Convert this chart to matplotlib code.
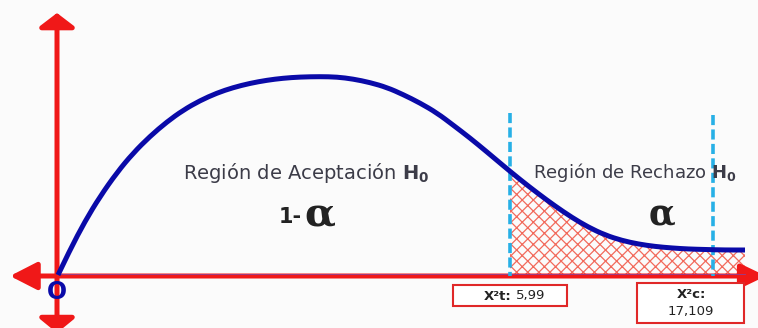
"""Chi-square acceptance / rejection region sketch (pixel-space diagram)."""

import matplotlib
matplotlib.use("Agg")
import matplotlib.pyplot as plt
from matplotlib.patches import Rectangle, PathPatch
from matplotlib.path import Path

plt.rcParams["font.family"] = ["DejaVu Sans"]
plt.rcParams["mathtext.fontset"] = "dejavusans"
plt.rcParams["hatch.linewidth"] = 0.9

W, H = 758, 328

# density curve (x right, y down, in pixels)
curve_x = [58, 70, 85, 100, 117, 133, 150, 167, 183, 200, 217, 233, 250, 267, 283,
           300, 320, 337, 353, 370, 387, 403, 420, 437, 453, 470, 487, 503,
           520, 538, 555, 572, 588, 605, 622, 638, 655, 672, 688, 705, 725, 745]
curve_y = [275, 249.8, 221.3, 196.6, 172.5, 153.3, 136.3, 121.8, 110.3, 100.6, 93, 87.6,
           83.3, 80.2, 78.2, 77, 76.6, 77, 79, 82.5, 87.5, 94.5, 103, 113, 125, 138, 152,
           165.5, 179.5, 193.5, 206, 217.5, 227, 235, 240.5, 244, 246.5, 248, 249, 249.5,
           250, 250]

origin = (57, 276)
x_crit_t = 510   # X²t = 5,99
x_crit_c = 713   # X²c = 17,109
dash_top = [113, 115]

label_accept = r"Región de Aceptación $\mathbf{H_0}$"
label_reject = r"Región de Rechazo $\mathbf{H_0}$"
box_t_bold, box_t_value = "X²t:", "5,99"
box_c_bold, box_c_value = "X²c:", "17,109"

RED = "#f01818"
BLUE = "#0a0aa8"
CYAN = "#27b0e6"
BOX_RED = "#e02828"


def smooth_path(xs, ys):
    """Quadratic Bezier path through the midpoints of the read points."""
    pts = list(zip(xs, ys))
    verts = [pts[0]]
    codes = [Path.MOVETO]
    for i in range(1, len(pts) - 1):
        mid = ((pts[i][0] + pts[i + 1][0]) / 2, (pts[i][1] + pts[i + 1][1]) / 2)
        verts += [pts[i], mid]
        codes += [Path.CURVE3, Path.CURVE3]
    verts.append(pts[-1])
    codes.append(Path.LINETO)
    return verts, codes


fig = plt.figure(figsize=(W / 100, H / 100), dpi=100, facecolor="#fbfbfb")
ax = fig.add_axes([0, 0, 1, 1])
ax.set_xlim(0, W)
ax.set_ylim(H, 0)
ax.axis("off")

ox, oy = origin
verts, codes = smooth_path(curve_x, curve_y)

# rejection region (hatched), area under curve clipped to x >= X²t
area = Path(verts + [(curve_x[-1], oy), (curve_x[0], oy), (0, 0)],
            codes + [Path.LINETO, Path.LINETO, Path.CLOSEPOLY])
hatch_patch = PathPatch(area, facecolor="none", edgecolor="#f26a5c", hatch="xxx",
                        linewidth=0, zorder=1)
ax.add_patch(hatch_patch)
clip = Rectangle((x_crit_t, 0), curve_x[-1] - x_crit_t, oy, transform=ax.transData)
hatch_patch.set_clip_path(clip)

# axes with arrows
arrow_kw = dict(color=RED, lw=3.6, shrinkA=0, shrinkB=0)
ax.annotate("", xy=(ox, 13), xytext=(ox, oy),
            arrowprops=dict(arrowstyle="-|>,head_length=0.42,head_width=0.55",
                            mutation_scale=20, **arrow_kw))
ax.annotate("", xy=(ox, 333), xytext=(ox, oy),
            arrowprops=dict(arrowstyle="-|>,head_length=0.45,head_width=0.55",
                            mutation_scale=20, **arrow_kw),
            annotation_clip=False)
ax.annotate("", xy=(10, oy), xytext=(ox, oy),
            arrowprops=dict(arrowstyle="-|>,head_length=0.82,head_width=0.42",
                            mutation_scale=20, **arrow_kw))
ax.annotate("", xy=(766, oy), xytext=(ox, oy),
            arrowprops=dict(arrowstyle="-|>,head_length=0.75,head_width=0.36",
                            mutation_scale=20, **arrow_kw),
            annotation_clip=False)
ax.plot([ox, 745], [oy - 2, oy - 2], color="#6a50c8", lw=0.6, alpha=0.7, zorder=3)

# critical value lines
for xc, top in zip([x_crit_t, x_crit_c], dash_top):
    ax.plot([xc, xc], [top, oy], color=CYAN, lw=2.6, dashes=(2.8, 1.2), zorder=4)

# density curve
ax.add_patch(PathPatch(Path(verts, codes), facecolor="none", edgecolor=BLUE, lw=3.6,
                       capstyle="butt", zorder=5))

ax.text(ox, 292, "O", color=BLUE, fontsize=17, fontweight="bold",
        ha="center", va="center", zorder=6)

ax.text(183, 173, label_accept, color="#3c3c48", fontsize=14, ha="left", va="center")
ax.text(533, 173, label_reject, color="#3c3c48", fontsize=13, ha="left", va="center", zorder=6)
ax.text(302, 217, "1-", color="#222222", fontsize=15, fontweight="bold", ha="right", va="center")
ax.text(304, 215, "α", color="#222222", fontsize=29, fontweight="bold", family="DejaVu Serif",
        ha="left", va="center")
ax.text(662, 215, "α", color="#222222", fontsize=25, fontweight="bold", family="DejaVu Serif",
        ha="center", va="center")

# value boxes
ax.add_patch(Rectangle((453, 285), 114, 21, facecolor="white", edgecolor=BOX_RED, lw=1.5, zorder=6))
ax.text(511, 296, box_t_bold, fontsize=9.5, fontweight="bold", color="#222222",
        ha="right", va="center", zorder=7)
ax.text(516, 296, box_t_value, fontsize=9.5, color="#222222", ha="left", va="center", zorder=7)
ax.add_patch(Rectangle((637, 283), 107, 40, facecolor="white", edgecolor=BOX_RED, lw=1.5, zorder=6))
ax.text(691, 294, box_c_bold, fontsize=9.5, fontweight="bold", color="#222222",
        ha="center", va="center", zorder=7)
ax.text(691, 311, box_c_value, fontsize=9.5, color="#222222", ha="center", va="center", zorder=7)

fig.savefig("out.png", dpi=100, facecolor=fig.get_facecolor())
